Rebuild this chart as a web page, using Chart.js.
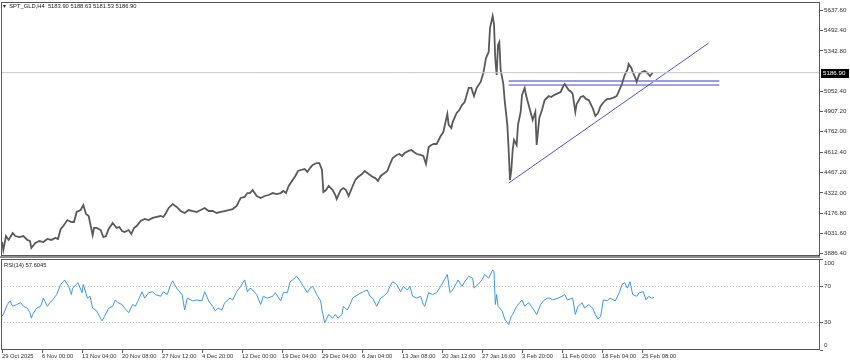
<!DOCTYPE html>
<html>
<head>
<meta charset="utf-8">
<script src="https://cdn.jsdelivr.net/npm/chart.js@4.4.1/dist/chart.umd.min.js"></script>
<style>
    body { margin: 0; background: #fff; }
    #wrap { position: relative; width: 850px; height: 364px; overflow: hidden; font-family: 'Liberation Sans', Arial, sans-serif; }
    #priceChart { position: absolute; left: 0; top: 0; }
    #rsiChart { position: absolute; left: 0; top: 258px; }
    .caption { position: absolute; font-size: 5.8px; color: #222; white-space: pre; line-height: 7px; }
</style>
</head>
<body>
<div id="wrap">
    <canvas id="priceChart" width="850" height="258"></canvas>
    <canvas id="rsiChart" width="850" height="106"></canvas>
    <div class="caption" style="left:3px; top:3px;">▾  SPT_GLD,H4  5183.90 5188.63 5181.53 5186.90</div>
    <div class="caption" style="left:4px; top:262px;">RSI(14) 57.6045</div>
</div>
<script>
// H4 bar index (0 = 29 Oct 2025) and price
const priceBars = [
    0, 1, 3, 5, 8, 10, 13, 16, 19, 21,
    22, 25, 28, 31, 34, 37, 40, 42, 44, 46,
    49, 52, 54, 56, 59, 61, 63, 65, 68, 69,
    71, 74, 76, 78, 80, 83, 86, 88, 90, 92,
    95, 97, 99, 101, 104, 107, 110, 113, 116, 119,
    121, 123, 125, 128, 131, 134, 137, 140, 143, 146,
    149, 152, 155, 158, 161, 164, 167, 170, 173, 176,
    179, 182, 184, 186, 188, 191, 194, 197, 200, 203,
    206, 209, 211, 213, 215, 218, 220, 222, 224, 227,
    229, 231, 233, 236, 238, 240, 241, 243, 245, 248,
    250, 251, 254, 256, 258, 260, 263, 265, 267, 270,
    272, 275, 278, 280, 282, 284, 287, 289, 291, 293,
    296, 298, 300, 302, 305, 307, 309, 311, 314, 316,
    318, 320, 322, 324, 326, 329, 331, 333, 334, 335,
    337, 338, 341, 343, 345, 347, 350, 352, 354, 356,
    359, 361, 363, 365, 366, 368, 369, 370, 371, 372,
    373, 374, 376, 377, 379, 380, 381, 382, 383, 384,
    386, 387, 389, 390, 392, 393, 395, 396, 398, 400,
    401, 403, 405, 407, 410, 412, 414, 416, 419, 421,
    422, 425, 427, 428, 430, 431, 434, 436, 438, 440,
    443, 445, 447, 449, 452, 454, 456, 458, 461, 463,
    465, 467, 469, 470, 472, 473, 475, 476, 478, 480,
    482, 484, 486, 488
];
const priceValues = [
    3969, 3912, 4012, 3984, 4034, 4012, 4005, 4012, 3984, 3976,
    3926, 3962, 3976, 3969, 3991, 3984, 3998, 3991, 4063, 4084,
    4127, 4113, 4113, 4185, 4199, 4235, 4170, 4156, 4019, 4070,
    4070, 4055, 4005, 4012, 4063, 4106, 4070, 4077, 4048, 4041,
    4055, 4027, 4070, 4084, 4120, 4135, 4127, 4142, 4149, 4156,
    4149, 4178, 4214, 4242, 4221, 4192, 4178, 4199, 4192, 4185,
    4199, 4214, 4192, 4192, 4178, 4185, 4192, 4199, 4206, 4228,
    4286, 4293, 4321, 4321, 4343, 4300, 4286, 4300, 4307, 4321,
    4314, 4321, 4336, 4321, 4372, 4415, 4444, 4480, 4487, 4494,
    4473, 4501, 4523, 4537, 4537, 4487, 4329, 4343, 4372, 4343,
    4307, 4278, 4343, 4357, 4343, 4300, 4372, 4415, 4437, 4458,
    4480, 4458, 4437, 4429, 4408, 4444, 4465, 4480, 4530, 4573,
    4595, 4602, 4588, 4609, 4624, 4631, 4616, 4602, 4595, 4588,
    4530, 4652, 4667, 4674, 4674, 4731, 4760, 4847, 4890, 4811,
    4789, 4832, 4897, 4918, 4954, 4976, 5077, 5077, 5019, 5077,
    5120, 5185, 5292, 5336, 5508, 5595, 5537, 5278, 5170, 5386,
    5407, 5206, 5105, 4990, 4810, 4631, 4415, 4487, 4631, 4703,
    4667, 4811, 4904, 5026, 5077, 5026, 4954, 4918, 4847, 4904,
    4667, 4861, 4918, 4990, 5019, 5012, 5026, 5034, 5048, 5091,
    5105, 5062, 5048, 5034, 4904, 4962, 5012, 5019, 4998, 4990,
    4933, 4875, 4897, 4947, 4983, 4998, 4998, 5005, 5019, 5062,
    5105, 5170, 5206, 5249, 5221, 5192, 5149, 5120, 5177, 5192,
    5199, 5185, 5163, 5187
];
const lastClose = 5186.90;

// RSI(14)
const rsiBars = [
    0, 1, 4, 6, 8, 11, 14, 16, 19, 21, 22, 23, 26, 29, 31, 34, 36, 38, 41, 44,
    47, 50, 52, 53, 57, 60, 61, 64, 66, 68, 71, 75, 77, 80, 83, 85, 87, 90, 92, 95,
    98, 100, 102, 105, 107, 110, 113, 115, 119, 121, 124, 126, 128, 131, 135, 137, 139, 143, 146, 150,
    152, 155, 158, 160, 162, 165, 167, 171, 173, 176, 179, 182, 184, 186, 188, 191, 194, 196, 199, 203,
    205, 209, 211, 214, 216, 218, 221, 224, 226, 229, 231, 233, 236, 239, 240, 242, 245, 248, 250, 252,
    255, 256, 259, 261, 263, 267, 271, 274, 276, 278, 281, 284, 286, 289, 291, 293, 296, 299, 301, 304,
    306, 308, 311, 314, 316, 317, 320, 323, 326, 329, 331, 334, 336, 338, 341, 342, 345, 347, 350, 353,
    354, 357, 360, 362, 365, 368, 369, 370, 371, 372, 375, 377, 380, 382, 383, 386, 390, 392, 395, 398,
    401, 404, 406, 409, 411, 413, 417, 420, 422, 424, 428, 430, 432, 435, 437, 440, 443, 445, 447, 449,
    451, 454, 456, 460, 463, 465, 467, 469, 471, 473, 476, 478, 481, 483, 485, 487, 489
];
const rsiValues = [
    37, 39, 50, 54, 48, 50, 52, 48, 46, 41, 35, 39, 46, 48, 57, 48, 52, 55, 61, 72,
    77, 70, 61, 68, 74, 63, 72, 57, 59, 46, 43, 32, 37, 46, 48, 55, 52, 50, 46, 41,
    50, 48, 54, 64, 57, 63, 64, 61, 59, 64, 61, 70, 76, 68, 61, 44, 57, 54, 55, 54,
    64, 54, 48, 43, 46, 44, 52, 57, 55, 64, 70, 77, 64, 68, 66, 61, 50, 59, 57, 59,
    63, 54, 63, 63, 75, 77, 81, 75, 70, 63, 68, 70, 61, 54, 44, 30, 39, 35, 39, 35,
    39, 48, 44, 50, 57, 61, 64, 66, 59, 57, 48, 57, 59, 63, 70, 75, 72, 64, 70, 66,
    70, 59, 57, 59, 50, 48, 63, 61, 63, 70, 75, 83, 63, 66, 74, 77, 70, 75, 81, 79,
    68, 72, 77, 83, 79, 88, 86, 50, 61, 48, 43, 34, 28, 37, 39, 48, 55, 48, 52, 46,
    39, 50, 54, 57, 57, 55, 57, 59, 61, 55, 57, 39, 48, 52, 46, 50, 46, 39, 34, 37,
    55, 54, 57, 54, 63, 72, 74, 68, 75, 61, 59, 63, 64, 55, 59, 57, 57.6
];

// drawn objects: rising trendline and the two resistance levels
const trendBars = [380, 530];
const trendValues = [4393, 5400];
const levelBars = [380, 538];
const upperLevel = 5127;
const lowerLevel = 5098;

const priceTicks = [3886.40, 4031.60, 4176.80, 4322.00, 4467.20, 4612.40, 4762.00, 4907.20, 5052.40, 5342.80, 5492.40, 5637.60];
const rsiTicks = [0, 30, 70, 100];
const timeBars = [0, 30, 60, 90, 120, 150, 180, 210, 240, 270, 300, 330, 360, 390, 420, 450, 480];
const timeLabels = ['29 Oct 2025', '6 Nov 00:00', '13 Nov 04:00', '20 Nov 08:00', '27 Nov 12:00', '4 Dec 20:00',
    '12 Dec 00:00', '19 Dec 04:00', '29 Dec 04:00', '6 Jan 04:00', '13 Jan 08:00', '20 Jan 12:00',
    '27 Jan 16:00', '3 Feb 20:00', '11 Feb 00:00', '18 Feb 04:00', '25 Feb 08:00'];

const X_MIN = -0.75;
const X_MAX = 613.5;
const FONT = "'Liberation Sans', Arial, sans-serif";

Chart.defaults.font.family = FONT;
Chart.defaults.animation = false;

const pts = (xs, ys) => xs.map((x, i) => ({ x: x, y: ys[i] }));

// fixed axis sizes, no extra room for overhanging labels
const fixWidth = s => { s.width = 30; s.paddingTop = 0; s.paddingBottom = 0; };
const fixHeight = s => { s.height = 14; s.paddingLeft = 0; s.paddingRight = 0; };

// frame around the plot area like the terminal panes
const frame = {
    id: 'frame',
    afterDatasetsDraw(chart, args, opts) {
        const a = chart.chartArea;
        const ctx = chart.ctx;
        ctx.save();
        ctx.strokeStyle = '#595959';
        ctx.lineWidth = 1;
        ctx.strokeRect(a.left + 0.5, a.top + 0.5, a.right - a.left - 1, a.bottom - a.top - 1);
        if (opts.separator) {
            ctx.fillStyle = '#8c8c8c';
            ctx.fillRect(0, a.bottom, a.right, 2);
        }
        ctx.restore();
    }
};

// black tag with the last price on the right scale
const priceTag = {
    id: 'priceTag',
    afterDraw(chart) {
        const y = Math.round(chart.scales.y.getPixelForValue(lastClose));
        const left = chart.chartArea.right;
        const ctx = chart.ctx;
        ctx.save();
        ctx.fillStyle = '#000';
        ctx.fillRect(left + 1, y - 4, 28, 9);
        ctx.fillStyle = '#fff';
        ctx.font = '6.2px ' + FONT;
        ctx.textBaseline = 'middle';
        ctx.fillText(lastClose.toFixed(2), left + 3, y + 0.5);
        ctx.restore();
    }
};

const baseOptions = {
    responsive: false,
    events: [],
    plugins: { legend: { display: false }, tooltip: { enabled: false } },
    elements: { point: { radius: 0 }, line: { tension: 0 } }
};

new Chart(document.getElementById('priceChart'), {
    type: 'line',
    data: {
        datasets: [
            { data: [{ x: X_MIN, y: lastClose }, { x: X_MAX, y: lastClose }], borderColor: '#c8c8c8', borderWidth: 1 },
            { data: pts(priceBars, priceValues), borderColor: '#5a5a5a', borderWidth: 1.8 },
            { data: pts(levelBars, [upperLevel, upperLevel]), borderColor: '#9a9ae8', borderWidth: 2 },
            { data: pts(levelBars, [lowerLevel, lowerLevel]), borderColor: '#4848b8', borderWidth: 1 },
            { data: pts(trendBars, trendValues), borderColor: '#5252c8', borderWidth: 1 }
        ]
    },
    options: {
        ...baseOptions,
        layout: { padding: { top: 2, bottom: 2, left: 1, right: 0 } },
        plugins: { ...baseOptions.plugins, frame: { separator: true } },
        scales: {
            x: { type: 'linear', min: X_MIN, max: X_MAX, display: false },
            y: {
                position: 'right',
                min: 3868.4,
                max: 5695.2,
                afterBuildTicks: s => { s.ticks = priceTicks.map(v => ({ value: v })); },
                afterFit: fixWidth,
                grid: { drawOnChartArea: false, tickLength: 3, color: '#595959' },
                border: { display: false },
                ticks: { font: { size: 6.2 }, color: '#333', padding: 1, callback: v => v.toFixed(2) }
            }
        }
    },
    plugins: [frame, priceTag]
});

new Chart(document.getElementById('rsiChart'), {
    type: 'line',
    data: {
        datasets: [
            { data: pts(rsiBars, rsiValues), borderColor: '#3d97e3', borderWidth: 1 }
        ]
    },
    options: {
        ...baseOptions,
        layout: { padding: { top: 1, bottom: 0, left: 1, right: 0 } },
        scales: {
            x: {
                type: 'linear',
                min: X_MIN,
                max: X_MAX,
                afterBuildTicks: s => { s.ticks = timeBars.map(v => ({ value: v })); },
                afterFit: fixHeight,
                grid: { drawOnChartArea: false, tickLength: 3, color: '#595959' },
                border: { display: false },
                ticks: {
                    autoSkip: false, maxRotation: 0, align: 'start', padding: 0,
                    font: { size: 5.8 }, color: '#333',
                    callback: (v, i) => timeLabels[i]
                }
            },
            y: {
                position: 'right',
                min: 0,
                max: 100,
                afterBuildTicks: s => { s.ticks = rsiTicks.map(v => ({ value: v })); },
                afterFit: fixWidth,
                grid: {
                    drawOnChartArea: true,
                    tickLength: 3,
                    color: c => (c.tick && (c.tick.value === 30 || c.tick.value === 70)) ? '#c4c4c4' : 'rgba(0,0,0,0)',
                    tickColor: '#595959'
                },
                border: { display: false, dash: [1, 2] },
                ticks: {
                    font: { size: 6.2, lineHeight: 1.5 }, color: '#333', padding: 1,
                    // top and bottom labels sit inside the pane
                    callback: v => v === 100 ? ['', '100'] : (v === 0 ? ['0', ''] : String(v))
                }
            }
        }
    },
    plugins: [frame]
});
</script>
</body>
</html>
